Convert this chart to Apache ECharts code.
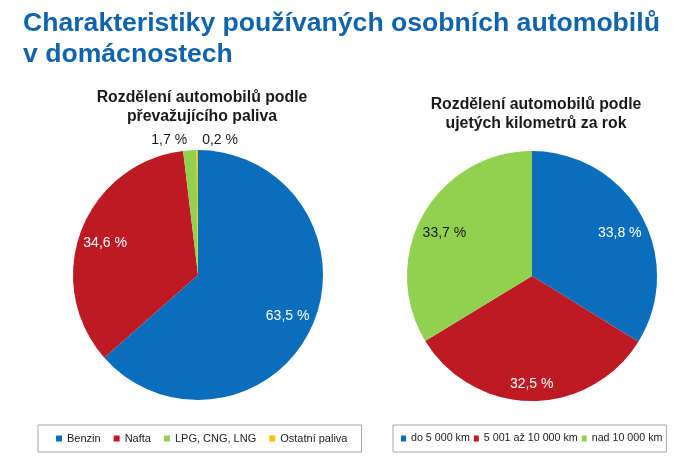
<!DOCTYPE html>
<html><head><meta charset="utf-8">
<script src="https://cdn.jsdelivr.net/npm/echarts@6/dist/echarts.min.js"></script>
<style>html,body{margin:0;padding:0;background:#fff}#c{width:682px;height:458px}</style>
</head><body><div id="c"></div>
<script>
const fuelNames = ['Benzin', 'Nafta', 'LPG, CNG, LNG', 'Ostatní paliva'];
const fuelValues = [63.5, 34.6, 1.7, 0.2];
const kmNames = ['do 5 000 km', '5 001 až 10 000 km', 'nad 10 000 km'];
const kmValues = [33.8, 32.5, 33.7];
const fuelColors = ['#0a6ebd', '#be1a24', '#92d050', '#ffc000'];
const kmColors = ['#0a6ebd', '#be1a24', '#92d050'];

const fmt = p => p.value.toFixed(1).replace('.', ',') + ' %';
const FONT = 'Liberation Sans, Arial, sans-serif';
const R = 125;

function mainData(names, values, colors, outsideSet) {
  return names.map((n, i) => ({
    name: n, value: values[i], itemStyle: { color: colors[i] },
    label: { show: outsideSet.includes(i) }
  }));
}
function overlayData(names, values, insideSet, darkSet) {
  return names.map((n, i) => ({
    name: n, value: values[i],
    label: { show: insideSet.includes(i), color: darkSet.includes(i) ? '#1a1a1a' : '#ffffff' }
  }));
}
const leftShift = [[-2, 0], [1, 4]];
const rightShift = [[0, 6], [0, 8], [0, 6]];

const chart = echarts.init(document.getElementById('c'));
chart.setOption({
  backgroundColor: '#fff',
  animation: false,
  graphic: [
    { type: 'text', left: 23, top: 8, style: { text: 'Charakteristiky používaných osobních automobilů\nv domácnostech', font: 'bold 26.6px ' + FONT, fill: '#1064ae', lineHeight: 31 } },
    { type: 'text', x: 202, y: 88, style: { text: 'Rozdělení automobilů podle\npřevažujícího paliva', font: 'bold 15.8px ' + FONT, fill: '#1a1a1a', align: 'center', lineHeight: 19 } },
    { type: 'text', x: 536, y: 95, style: { text: 'Rozdělení automobilů podle\nujetých kilometrů za rok', font: 'bold 15.8px ' + FONT, fill: '#1a1a1a', align: 'center', lineHeight: 19 } }
  ],
  legend: [
    { data: fuelNames, left: 38, top: 425, width: 600, padding: [8, 14, 8, 18], borderColor: '#a6a6a6', borderWidth: 1,
      icon: 'rect', itemWidth: 6, itemHeight: 6, itemGap: 13, textStyle: { fontFamily: FONT, fontSize: 11, color: '#222' } },
    { data: kmNames, left: 393, top: 425, width: 600, padding: [8, 4, 8, 8], borderColor: '#a6a6a6', borderWidth: 1,
      icon: 'rect', itemWidth: 5, itemHeight: 6, itemGap: 4, textStyle: { fontFamily: FONT, fontSize: 10.7, color: '#222' } }
  ],
  series: [
    { type: 'pie', center: [198, 275], radius: [0, R], startAngle: 90, clockwise: true, avoidLabelOverlap: false,
      data: mainData(fuelNames, fuelValues, fuelColors, [2, 3]),
      label: { position: 'outside', formatter: fmt, fontFamily: FONT, fontSize: 14, color: '#1a1a1a' },
      labelLine: { show: false, length: 10, length2: 0 },
      labelLayout: p => p.dataIndex === 3 ? { align: 'left', dx: 10 } : (p.dataIndex === 2 ? { dx: 3 } : {}),
      itemStyle: { borderWidth: 0 } },
    { type: 'pie', center: [198, 275], radius: [70, R], startAngle: 90, silent: true, legendHoverLink: false,
      data: overlayData(fuelNames, fuelValues, [0, 1], []),
      itemStyle: { color: 'rgba(0,0,0,0)' },
      labelLayout: p => (leftShift[p.dataIndex] ? { dx: leftShift[p.dataIndex][0], dy: leftShift[p.dataIndex][1] } : {}),
      label: { position: 'inside', formatter: fmt, fontFamily: FONT, fontSize: 14 }, labelLine: { show: false } },
    { type: 'pie', center: [532, 276], radius: [0, R], startAngle: 90, avoidLabelOverlap: false,
      data: mainData(kmNames, kmValues, kmColors, []),
      label: { show: false }, itemStyle: { borderWidth: 0 } },
    { type: 'pie', center: [532, 276], radius: [70, R], startAngle: 90, silent: true, legendHoverLink: false,
      data: overlayData(kmNames, kmValues, [0, 1, 2], [2]),
      itemStyle: { color: 'rgba(0,0,0,0)' },
      labelLayout: p => ({ dx: rightShift[p.dataIndex][0], dy: rightShift[p.dataIndex][1] }),
      label: { position: 'inside', formatter: fmt, fontFamily: FONT, fontSize: 14 }, labelLine: { show: false } }
  ]
});
</script></body></html>
